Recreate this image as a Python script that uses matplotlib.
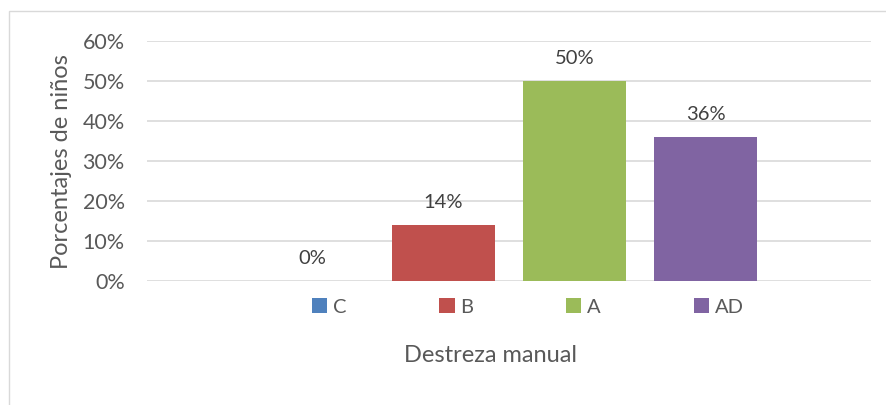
import matplotlib.pyplot as plt
import matplotlib.patches as patches
from matplotlib.ticker import PercentFormatter

# datos
niveles = ['C', 'B', 'A', 'AD']
porcentajes = [0, 14, 50, 36]
colores = ['#4F81BD', '#C0504D', '#9BBB59', '#8064A2']

plt.rcParams['font.family'] = ['Lato', 'DejaVu Sans']
gris = '#595959'

fig = plt.figure(figsize=(8.86, 4.05), dpi=100)
W, H = 886, 405

# marco del grafico
fig.patches.append(patches.Rectangle((9 / W, -0.1), 1.2, 1.1 - 11 / H,
                                     transform=fig.transFigure, fill=False,
                                     edgecolor='#D9D9D9', linewidth=1))

ax = fig.add_axes([147 / W, 1 - 281 / H, (871 - 147) / W, (281 - 41) / H])

pos = list(range(len(niveles)))
barras = []
for i in pos:
    b = ax.bar(i, porcentajes[i], width=0.786, color=colores[i], label=niveles[i], zorder=3)
    barras.append(b)
    ax.text(i, porcentajes[i] + 3.6, f'{porcentajes[i]}%', ha='center', va='bottom',
            fontsize=14.5, color='#404040')

ax.set_xlim(-1.263, 4.263)
ax.set_ylim(0, 60)
ax.set_yticks([0, 10, 20, 30, 40, 50, 60])
ax.yaxis.set_major_formatter(PercentFormatter(decimals=0))
ax.set_xticks([])
ax.tick_params(axis='y', length=0, labelsize=15.5, labelcolor=gris, pad=16)
ax.grid(axis='y', color='#D9D9D9', linewidth=1.2, zorder=0)
for s in ax.spines.values():
    s.set_visible(False)

fig.text(61 / W, 1 - 162 / H, 'Porcentajes de niños', rotation=90, ha='center', va='center',
         fontsize=17, color=gris)
fig.text(491 / W, 1 - 355 / H, 'Destreza manual', ha='center', va='center',
         fontsize=17, color=gris)

fig.legend(handles=[b[0] for b in barras], labels=niveles, ncol=4, loc='center',
           bbox_to_anchor=(528 / W, 1 - 307 / H), frameon=False, fontsize=14.5,
           handlelength=0.75, handleheight=0.75, handletextpad=0.3, columnspacing=4.6,
           labelcolor=gris)

plt.savefig('out.png', dpi=100)
